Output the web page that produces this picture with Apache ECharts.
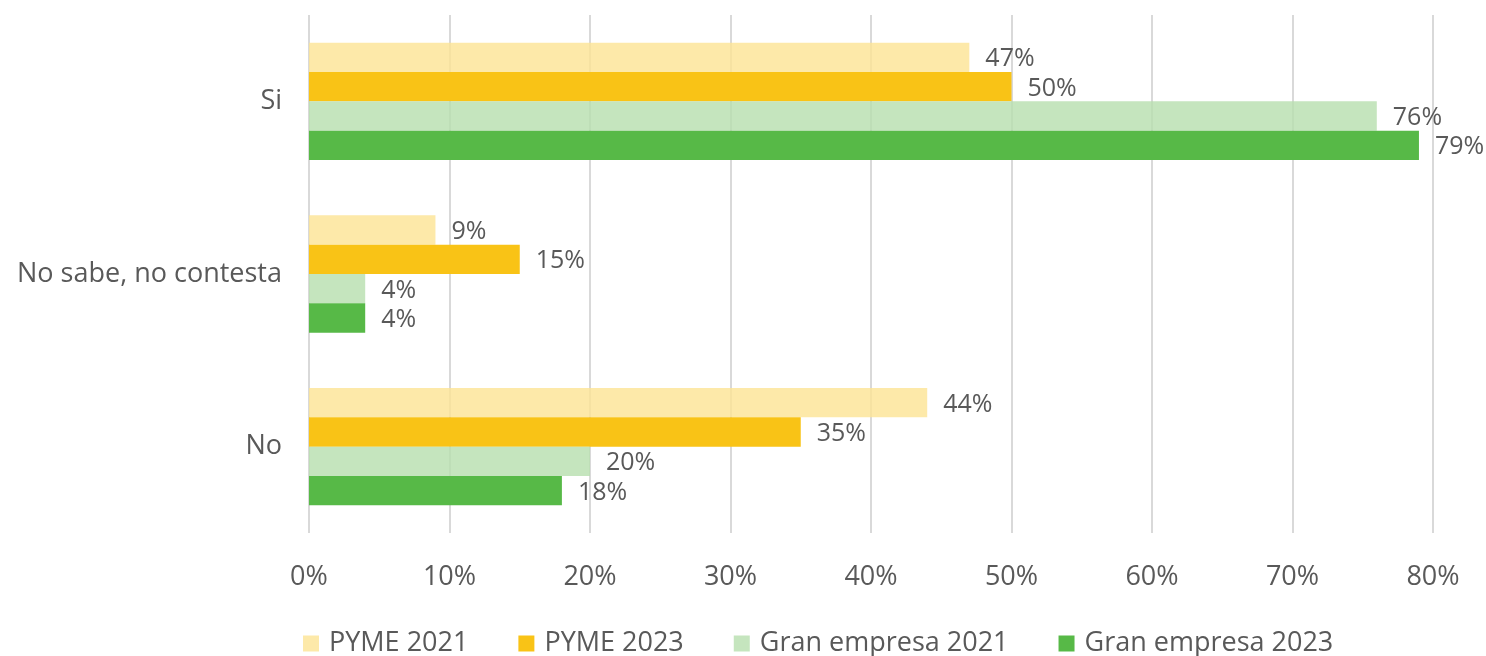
<!DOCTYPE html>
<html>
<head>
<meta charset="utf-8">
<script src="https://cdn.jsdelivr.net/npm/echarts@6/dist/echarts.min.js"></script>
<style>
  html, body { margin: 0; padding: 0; background: #ffffff; }
  #chart { width: 1486px; height: 656px; }
</style>
</head>
<body>
<div id="chart"></div>
<script>
// Survey answers, shown top to bottom
const categories = ['Si', 'No sabe, no contesta', 'No'];

// Share of companies per answer (%)
const pyme2021 = [47, 9, 44];
const pyme2023 = [50, 15, 35];
const granEmpresa2021 = [76, 4, 20];
const granEmpresa2023 = [79, 4, 18];

const seriesNames = ['PYME 2021', 'PYME 2023', 'Gran empresa 2021', 'Gran empresa 2023'];
const xTicks = [0, 10, 20, 30, 40, 50, 60, 70, 80];

const FONT = '"Open Sans", sans-serif';
const TEXT = '#595959';

// Light fills are slightly translucent so the gridlines show through
const palette = [
  'rgba(252,228,148,0.8)',
  '#F9C316',
  'rgba(183,222,174,0.8)',
  '#57B947'
];

const seriesData = [pyme2021, pyme2023, granEmpresa2021, granEmpresa2023];

const chart = echarts.init(document.getElementById('chart'), null, { renderer: 'canvas' });

chart.setOption({
  animation: false,
  textStyle: { fontFamily: FONT },
  grid: { left: 309, right: 53, top: 15, bottom: 123, containLabel: false },
  legend: {
    top: 625,
    left: 298,
    itemWidth: 16,
    itemHeight: 16,
    itemGap: 50,
    icon: 'rect',
    textStyle: { fontFamily: FONT, fontSize: 27, color: TEXT, padding: [0, 0, 0, 5] },
    data: seriesNames.map((name, i) => ({ name, itemStyle: { color: palette[i] } }))
  },
  xAxis: {
    type: 'value',
    min: xTicks[0],
    max: xTicks[xTicks.length - 1],
    interval: xTicks[1] - xTicks[0],
    axisLine: { show: false },
    axisTick: { show: false },
    splitLine: { show: true, lineStyle: { color: '#d9d9d9', width: 2 } },
    axisLabel: {
      fontFamily: FONT, fontSize: 27, color: TEXT, margin: 31,
      formatter: v => v + '%'
    }
  },
  yAxis: {
    type: 'category',
    inverse: true,
    data: categories,
    axisLine: { show: false },
    axisTick: { show: false },
    axisLabel: { fontFamily: FONT, fontSize: 27, color: TEXT, margin: 27 }
  },
  series: seriesData.map((data, i) => ({
    name: seriesNames[i],
    type: 'bar',
    data: data,
    barGap: '0%',
    barCategoryGap: '32%',
    itemStyle: { color: palette[i] },
    label: {
      show: true,
      position: 'right',
      distance: 16,
      offset: [0, 2],
      fontFamily: FONT,
      fontSize: 25,
      color: TEXT,
      formatter: p => p.value + '%'
    }
  }))
});
</script>
</body>
</html>
